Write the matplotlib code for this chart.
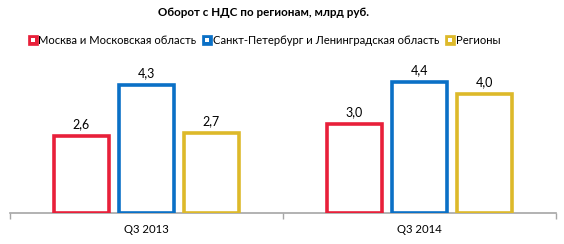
import matplotlib
matplotlib.use("Agg")
import matplotlib.pyplot as plt
from matplotlib.lines import Line2D
import numpy as np

plt.rcParams['font.family'] = ['Lato', 'DejaVu Sans']

categories = ["Q3 2013", "Q3 2014"]
series_names = ["Москва и Московская область", "Санкт-Петербург и Ленинградская область", "Регионы"]
values = {
    "Москва и Московская область": [2.6, 3.0],
    "Санкт-Петербург и Ленинградская область": [4.3, 4.4],
    "Регионы": [2.7, 4.0],
}
colors = ["#E8203A", "#0A70C6", "#DDB92A"]
title = "Оборот с НДС по регионам, млрд руб."

fig = plt.figure(figsize=(5.64, 2.44), dpi=100)
ax = fig.add_axes([10/564, 1-213/244, 546/564, 153/244])

x = np.arange(len(categories))
width = 0.20
offsets = [-0.238, 0.0, 0.238]
for name, col, off in zip(series_names, colors, offsets):
    vals = values[name]
    ax.bar(x + off, vals, width, facecolor="white", edgecolor=col, linewidth=2.6, zorder=3)
    for xi, v in zip(x + off, vals):
        ax.text(xi, v + 0.2, f"{v:.1f}".replace(".", ","), ha="center", va="bottom", fontsize=9, color="black")

ax.set_xlim(-0.5, 1.5)
ax.set_ylim(0, 5.15)
ax.set_yticks([])
for s in ["top", "right", "left"]:
    ax.spines[s].set_visible(False)
ax.spines["bottom"].set_color("#A6A6A6")
ax.spines["bottom"].set_linewidth(1.2)
ax.set_xticks([-0.5, 0.5, 1.5], minor=False)
ax.set_xticklabels([])
ax.tick_params(axis="x", which="major", length=4, color="#A6A6A6", width=1)
ax.set_xticks(x, minor=True)
ax.set_xticklabels(categories, minor=True, fontsize=8.2)
ax.tick_params(axis="x", which="minor", length=0, pad=8)

fig.text(263/564, 1-12/244, title, ha="center", va="center", fontsize=8.4, fontweight="bold")

handles = [(Line2D([0], [0], marker="s", linestyle="none", markersize=7.5, markerfacecolor=c,
                   markeredgecolor=c, markeredgewidth=0.5),
            Line2D([0], [0], marker="s", linestyle="none", markersize=2.2, markerfacecolor="white",
                   markeredgecolor="white", markeredgewidth=0)) for c in colors]
fig.legend(handles, series_names, loc="center", bbox_to_anchor=(264/564, 1-40/244), ncol=3, frameon=False,
           fontsize=8.1, handletextpad=0.05, columnspacing=0.5, handlelength=0.9, borderpad=0)

fig.savefig("out.png", dpi=100)
